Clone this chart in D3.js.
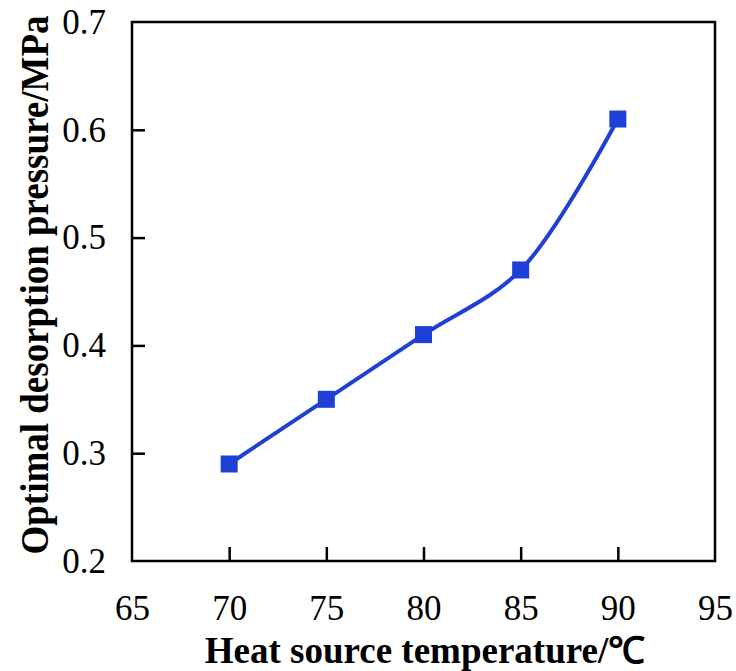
<!DOCTYPE html>
<html><head><meta charset="utf-8">
<script src="https://cdn.jsdelivr.net/npm/d3@7/dist/d3.min.js"></script>
<style>body{margin:0;background:#fff}</style>
</head><body>
<svg id="c" width="736" height="671"></svg>
<script>
const temps = [70, 75, 80, 85, 90];
const pressures = [0.29, 0.35, 0.41, 0.47, 0.61];
const xTicks = [65, 70, 75, 80, 85, 90, 95];
const yTicks = [0.2, 0.3, 0.4, 0.5, 0.6, 0.7];
const xLabel = "Heat source temperature/℃";
const yLabel = "Optimal desorption pressure/MPa";

const svg = d3.select("#c");
const m = {l:132, r:715, t:22, b:561};
const x = d3.scaleLinear().domain([65,95]).range([m.l, m.r]);
const y = d3.scaleLinear().domain([0.2,0.7]).range([m.b, m.t]);
const font = "'Liberation Serif','Times New Roman',serif";
const blue = "#1f40d6";

const gx = svg.append("g").attr("transform",`translate(0,${m.b})`)
  .call(d3.axisBottom(x).tickValues(xTicks).tickSizeInner(-14).tickSizeOuter(0).tickPadding(34).tickFormat(d3.format("d")));
const gy = svg.append("g").attr("transform",`translate(${m.l},0)`)
  .call(d3.axisLeft(y).tickValues(yTicks).tickSizeInner(-13).tickSizeOuter(0).tickPadding(26).tickFormat(d3.format(".1f")));
[gx, gy].forEach(g => {
  g.select(".domain").remove();
  g.selectAll(".tick line").attr("stroke","#000").attr("stroke-width",2.5);
  g.selectAll(".tick text").attr("font-family",font).attr("font-size",35).attr("fill","#000");
});
gx.selectAll(".tick").filter(d => d===65 || d===95).select("line").remove();
gy.selectAll(".tick").filter(d => d===0.2 || d===0.7).select("line").remove();

svg.append("rect").attr("x",m.l).attr("y",m.t).attr("width",m.r-m.l).attr("height",m.b-m.t)
  .attr("fill","none").attr("stroke","#000").attr("stroke-width",2.5);

const data = temps.map((t,i)=>({t, p:pressures[i]}));
const line = d3.line().x(d=>x(d.t)).y(d=>y(d.p)).curve(d3.curveCatmullRom.alpha(0.5));
svg.append("path").datum(data).attr("d",line).attr("fill","none").attr("stroke",blue).attr("stroke-width",4);
const s = 17;
svg.selectAll("rect.pt").data(data).enter().append("rect").attr("class","pt")
  .attr("x",d=>x(d.t)-s/2).attr("y",d=>y(d.p)-s/2).attr("width",s).attr("height",s).attr("fill",blue);

svg.append("text").attr("x",425).attr("y",663).attr("text-anchor","middle")
  .attr("font-family",font).attr("font-weight","bold").attr("font-size",37).text(xLabel);
svg.append("text").attr("transform",`translate(48,285) rotate(-90) scale(1,1.1)`).attr("text-anchor","middle")
  .attr("font-family",font).attr("font-weight","bold").attr("font-size",37).text(yLabel);
</script>
</body></html>
